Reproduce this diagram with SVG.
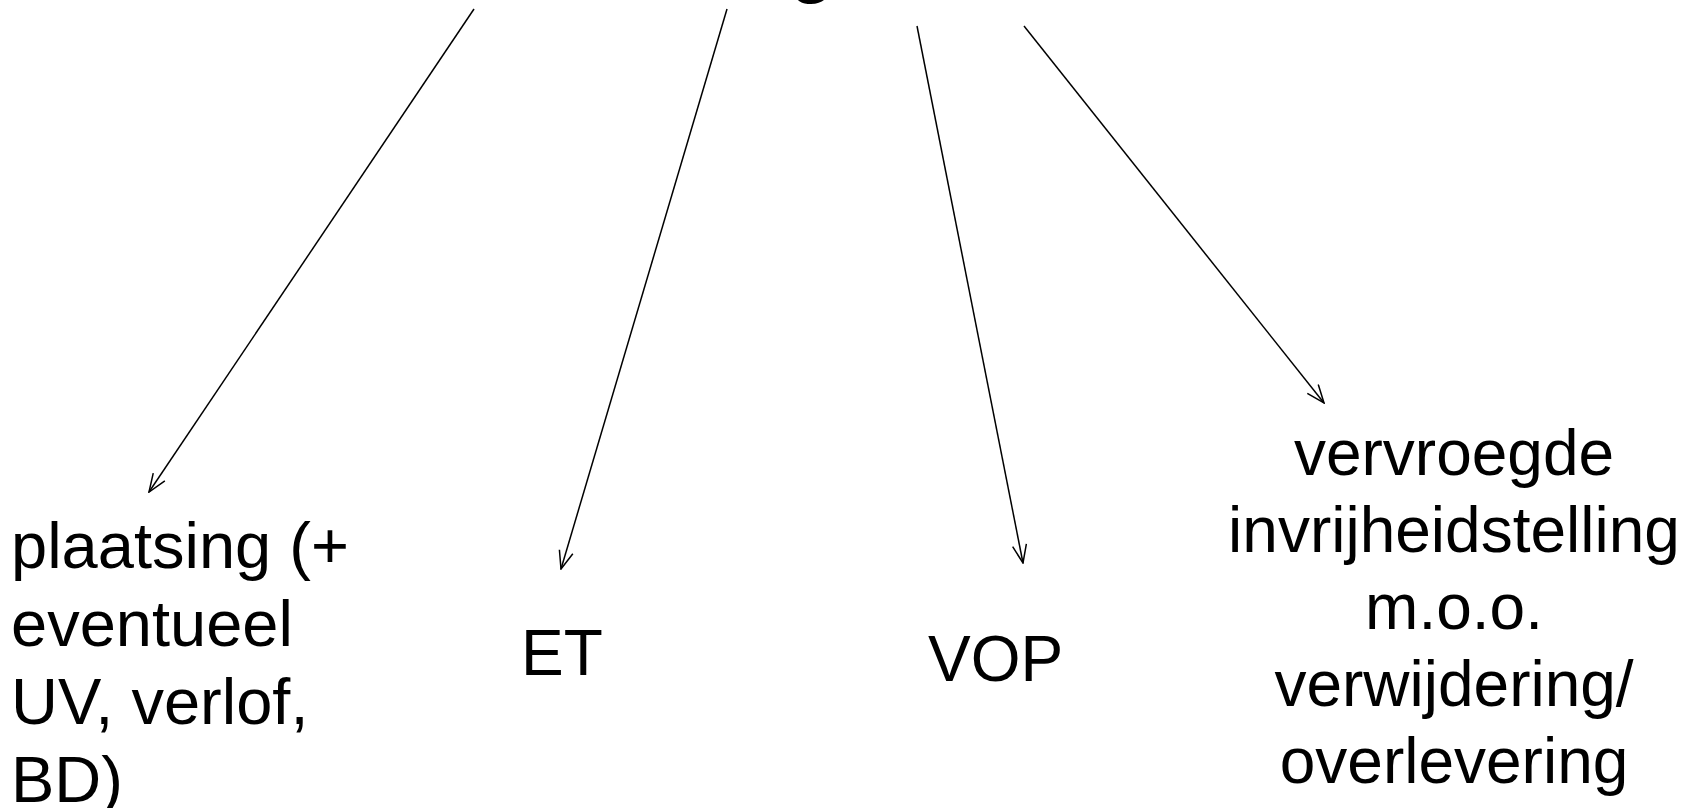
<svg xmlns="http://www.w3.org/2000/svg" width="1696" height="808" viewBox="0 0 1696 808">
  <style>
    .t { font-family: "Liberation Sans", Arial, sans-serif; font-size: 64px; fill: #000; }
    .l { font-size: 65px; }
    .h { font-family: "Liberation Sans", Arial, sans-serif; font-size: 72px; font-weight: bold; fill: #000; }
    .c { text-anchor: middle; }
    .edge { stroke: #000; stroke-width: 1.5; fill: none; marker-end: url(#arrow); }
  </style>
  <defs>
    <marker id="arrow" viewBox="0 0 20 16" refX="19" refY="8" markerWidth="20" markerHeight="16" markerUnits="userSpaceOnUse" orient="auto">
      <path d="M1,1 L19,8 L1,15" fill="none" stroke="#000" stroke-width="1.5"/>
    </marker>
  </defs>
  <rect width="1696" height="808" fill="#fff"/>
  <g id="title">
    <text class="h c" x="812" y="-10.6">g</text>
  </g>
  <g id="connectors">
    <line class="edge" x1="474" y1="9" x2="149" y2="492"/>
    <line class="edge" x1="727" y1="9" x2="561" y2="569"/>
    <line class="edge" x1="917" y1="26" x2="1023" y2="563"/>
    <line class="edge" x1="1024" y1="26" x2="1324" y2="403"/>
  </g>
  <g id="node-plaatsing">
    <text class="t l" x="11" y="568">plaatsing (+</text>
    <text class="t l" x="11" y="646">eventueel</text>
    <text class="t l" x="11" y="724">UV, verlof,</text>
    <text class="t l" x="11" y="802">BD)</text>
  </g>
  <g id="node-et">
    <text class="t" x="521" y="675">ET</text>
  </g>
  <g id="node-vop">
    <text class="t" x="928" y="681">VOP</text>
  </g>
  <g id="node-vervroegde">
    <text class="t c" x="1454" y="475">vervroegde</text>
    <text class="t c" x="1454" y="552">invrijheidstelling</text>
    <text class="t c" x="1454" y="629">m.o.o.</text>
    <text class="t c" x="1454" y="706">verwijdering/</text>
    <text class="t c" x="1454" y="783">overlevering</text>
  </g>
</svg>
